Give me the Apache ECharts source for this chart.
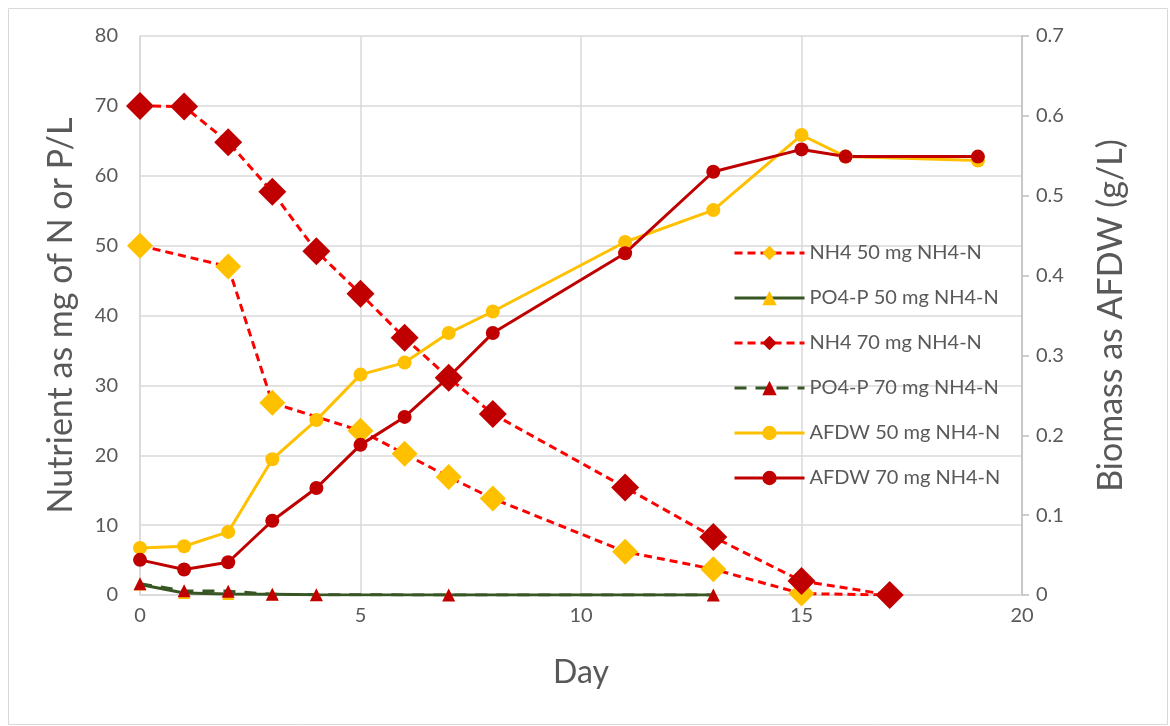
<!DOCTYPE html>
<html>
<head>
<meta charset="utf-8">
<script src="https://cdn.jsdelivr.net/npm/echarts@6/dist/echarts.min.js"></script>
<style>html,body{margin:0;padding:0;background:#fff}#c{width:1170px;height:726px}</style>
</head>
<body>
<div id="c"></div>
<script>
// Data
const nh4_50_days = [0, 2, 3, 5, 6, 7, 8, 11, 13, 15, 17];
const nh4_50_vals = [50, 47, 27.5, 23.5, 20.2, 16.9, 13.8, 6.2, 3.7, 0.2, 0];
const po4_50_days = [0, 1, 2, 3, 4, 7, 13];
const po4_50_vals = [1.5, 0.3, 0.15, 0.1, 0.05, 0, 0];
const nh4_70_days = [0, 1, 2, 3, 4, 5, 6, 7, 8, 11, 13, 15, 17];
const nh4_70_vals = [70, 69.9, 64.8, 57.7, 49.2, 43.1, 36.8, 31.1, 25.9, 15.4, 8.3, 2.0, 0];
const po4_70_days = [0, 1, 2, 3, 4, 7, 13];
const po4_70_vals = [1.6, 0.6, 0.55, 0.1, 0.05, 0, 0];
const afdw_50_days = [0, 1, 2, 3, 4, 5, 6, 7, 8, 11, 13, 15, 16, 19];
const afdw_50_vals = [0.059, 0.061, 0.079, 0.170, 0.219, 0.276, 0.291, 0.328, 0.355, 0.442, 0.482, 0.576, 0.549, 0.544];
const afdw_70_days = [0, 1, 2, 3, 4, 5, 6, 7, 8, 11, 13, 15, 16, 19];
const afdw_70_vals = [0.044, 0.032, 0.041, 0.093, 0.134, 0.188, 0.223, 0.273, 0.328, 0.428, 0.530, 0.558, 0.549, 0.549];
const seriesNames = ['NH4 50 mg NH4-N', 'PO4-P 50 mg NH4-N', 'NH4 70 mg NH4-N', 'PO4-P 70 mg NH4-N', 'AFDW 50 mg NH4-N', 'AFDW 70 mg NH4-N'];

const zip = (d, v) => d.map((x, i) => [x, v[i]]);
const FONT = 'Lato, "Liberation Sans", sans-serif';
const TXT = '#595959';
const GRID = '#D9D9D9';

const chart = echarts.init(document.getElementById('c'));
chart.setOption({
  animation: false,
  textStyle: { fontFamily: FONT },
  graphic: [{
    type: 'rect', left: 6, top: 6, shape: { width: 1159, height: 716 },
    style: { fill: 'none', stroke: GRID, lineWidth: 1 }, silent: true, z: -1
  }],
  grid: { left: 140, right: 148, top: 36, bottom: 131 },
  legend: {
    orient: 'vertical', left: 728, top: 238, itemWidth: 70, itemHeight: 18, itemGap: 25,
    lineStyle: { width: 3 },
    textStyle: { color: TXT, fontSize: 20, fontFamily: FONT },
    data: seriesNames
  },
  xAxis: {
    type: 'value', min: 0, max: 20, interval: 5,
    name: 'Day', nameLocation: 'middle', nameGap: 62,
    nameTextStyle: { color: TXT, fontSize: 32, fontFamily: FONT },
    axisLine: { show: true, lineStyle: { color: GRID, width: 1.5 } },
    axisTick: { show: false },
    axisLabel: { color: TXT, fontSize: 20, margin: 11, fontFamily: FONT },
    splitLine: { show: true, lineStyle: { color: GRID, width: 1.5 } }
  },
  yAxis: [{
    type: 'value', min: 0, max: 80, interval: 10,
    name: 'Nutrient as mg of N or P/L', nameLocation: 'middle', nameGap: 62,
    nameTextStyle: { color: TXT, fontSize: 34, fontFamily: FONT },
    axisLine: { show: true, lineStyle: { color: GRID, width: 1.5 } },
    axisTick: { show: false },
    axisLabel: { color: TXT, fontSize: 20, margin: 22, fontFamily: FONT },
    splitLine: { show: true, lineStyle: { color: GRID, width: 1.5 } }
  }, {
    type: 'value', min: 0, max: 0.7, interval: 0.1, position: 'right',
    name: 'Biomass as AFDW (g/L)', nameLocation: 'middle', nameGap: 72,
    nameTextStyle: { color: TXT, fontSize: 34, fontFamily: FONT },
    axisLine: { show: true, lineStyle: { color: '#BFBFBF', width: 1.5 } },
    axisTick: { show: true, length: 7, lineStyle: { color: '#BFBFBF', width: 1.5 } },
    axisLabel: { color: TXT, fontSize: 20, margin: 14, fontFamily: FONT,
      formatter: v => v === 0 ? '0' : v.toFixed(1) },
    splitLine: { show: false }
  }],
  series: [{
    name: seriesNames[0], type: 'line', yAxisIndex: 0, data: zip(nh4_50_days, nh4_50_vals),
    symbol: 'diamond', symbolSize: 26, color: '#FFC000',
    itemStyle: { color: '#FFC000' },
    lineStyle: { color: '#FF0000', width: 3, type: [8, 5] }
  }, {
    name: seriesNames[1], type: 'line', yAxisIndex: 0, data: zip(po4_50_days, po4_50_vals),
    symbol: 'triangle', symbolSize: 12, color: '#FFC000',
    itemStyle: { color: '#FFC000' },
    lineStyle: { color: '#375623', width: 3 }
  }, {
    name: seriesNames[2], type: 'line', yAxisIndex: 0, data: zip(nh4_70_days, nh4_70_vals),
    symbol: 'diamond', symbolSize: 28, color: '#C00000',
    itemStyle: { color: '#C00000' },
    lineStyle: { color: '#FF0000', width: 3, type: [8, 5] }
  }, {
    name: seriesNames[3], type: 'line', yAxisIndex: 0, data: zip(po4_70_days, po4_70_vals),
    symbol: 'triangle', symbolSize: 13, color: '#C00000',
    itemStyle: { color: '#C00000' },
    lineStyle: { color: '#375623', width: 3, type: [12, 9] }
  }, {
    name: seriesNames[4], type: 'line', yAxisIndex: 1, data: zip(afdw_50_days, afdw_50_vals),
    symbol: 'circle', symbolSize: 14, color: '#FFC000',
    itemStyle: { color: '#FFC000' },
    lineStyle: { color: '#FFC000', width: 3 }
  }, {
    name: seriesNames[5], type: 'line', yAxisIndex: 1, data: zip(afdw_70_days, afdw_70_vals),
    symbol: 'circle', symbolSize: 14, color: '#C00000',
    itemStyle: { color: '#C00000' },
    lineStyle: { color: '#C00000', width: 3 }
  }]
});
</script>
</body>
</html>
